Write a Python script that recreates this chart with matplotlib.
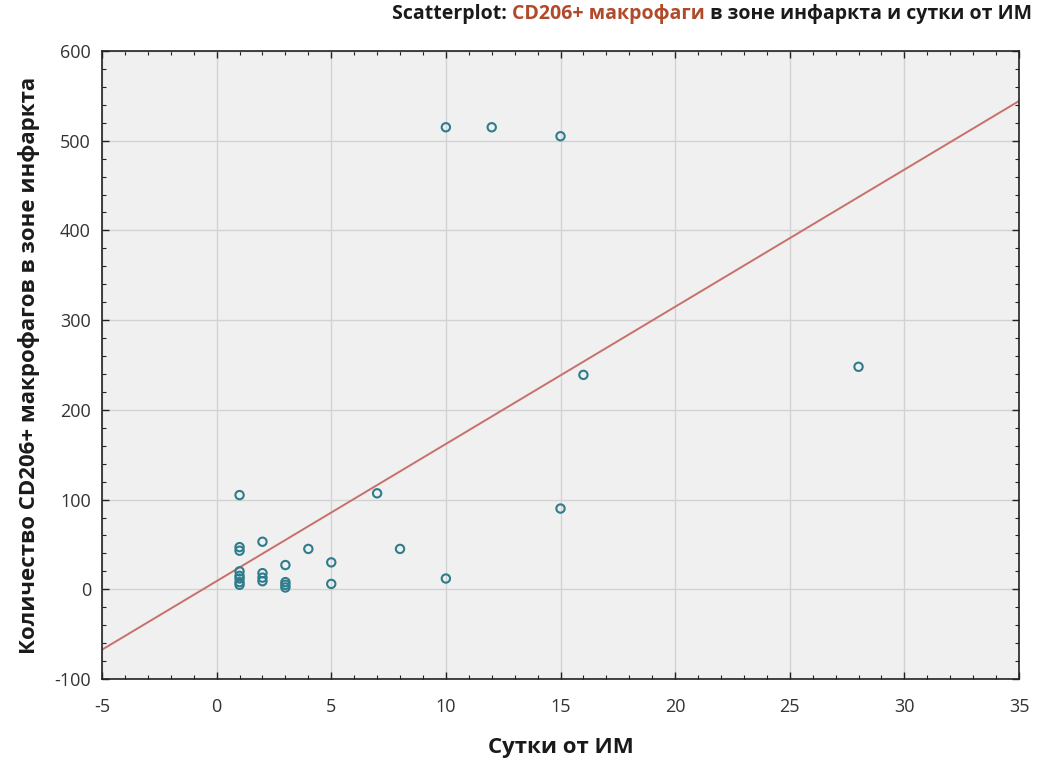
import numpy as np
import matplotlib
matplotlib.use("Agg")
import matplotlib.pyplot as plt
from matplotlib.ticker import MultipleLocator
from matplotlib.offsetbox import TextArea, HPacker, AnchoredOffsetbox

plt.rcParams['font.family'] = ['Open Sans', 'DejaVu Sans']
plt.rcParams['axes.unicode_minus'] = False

# Days since myocardial infarction and CD206+ macrophage count in the infarct zone
days = [1, 1, 1, 1, 1, 1, 1, 1,
        2, 2, 2, 2,
        3, 3, 3, 3,
        4, 5, 5, 7, 8, 10, 10, 12, 15, 15, 16, 28]
cd206 = [105, 47, 43, 20, 15, 12, 8, 5,
         53, 18, 13, 9,
         27, 8, 5, 2,
         45, 30, 6, 107, 45, 12, 515, 515, 505, 90, 239, 248]

x_label = "Сутки от ИМ"
y_label = "Количество CD206+ макрофагов в зоне инфаркта"
title_parts = [("Scatterplot: ", "#1a1a1a"),
               ("CD206+ макрофаги", "#b04a2a"),
               (" в зоне инфаркта и сутки от ИМ", "#1a1a1a")]

x_range = (-5, 35)
y_range = (-100, 600)

fig = plt.figure(figsize=(10.39, 7.65), dpi=100)
ax = fig.add_axes([102 / 1039, 1 - 679 / 765, (1019 - 102) / 1039, (679 - 51) / 765])
ax.set_facecolor("#f0f0f0")

# Linear fit through the observations
slope, intercept = np.polyfit(days, cd206, 1)
xs = np.array(x_range, dtype=float)
ax.plot(xs, intercept + slope * xs, color="#c8706a", lw=1.4, zorder=2)

ax.scatter(days, cd206, s=36, facecolors="none", edgecolors="#2f7c8c",
           linewidths=1.5, zorder=3)

ax.set_xlim(*x_range)
ax.set_ylim(*y_range)
ax.xaxis.set_major_locator(MultipleLocator(5))
ax.xaxis.set_minor_locator(MultipleLocator(1))
ax.yaxis.set_major_locator(MultipleLocator(100))
ax.yaxis.set_minor_locator(MultipleLocator(20))
ax.grid(True, which="major", color="#d2d2d2", lw=1.0, zorder=0)
ax.set_axisbelow(True)

for s in ax.spines.values():
    s.set_color("#222222")
    s.set_linewidth(1.2)
ax.tick_params(which="both", direction="in", top=True, right=True, colors="#222222")
ax.tick_params(which="major", length=5, width=1.0, labelsize=13, labelcolor="#333333")
ax.tick_params(axis="x", which="major", pad=14)
ax.tick_params(axis="y", which="major", pad=8)
ax.tick_params(which="minor", length=3, width=0.8)

ax.set_xlabel(x_label, fontsize=16, fontweight="bold", labelpad=15, color="#1a1a1a")
ax.set_ylabel(y_label, fontsize=16, fontweight="bold", labelpad=10, color="#1a1a1a")

areas = [TextArea(t, textprops=dict(color=c, fontsize=14, fontweight="bold"))
         for t, c in title_parts]
box = HPacker(children=areas, align="baseline", pad=0, sep=0)
anchored = AnchoredOffsetbox(loc="upper right", child=box, frameon=False,
                             bbox_to_anchor=(1032 / 1039, 1 - 4 / 765),
                             bbox_transform=fig.transFigure, borderpad=0, pad=0)
fig.add_artist(anchored)

fig.savefig("out.png", dpi=100, facecolor="white")
